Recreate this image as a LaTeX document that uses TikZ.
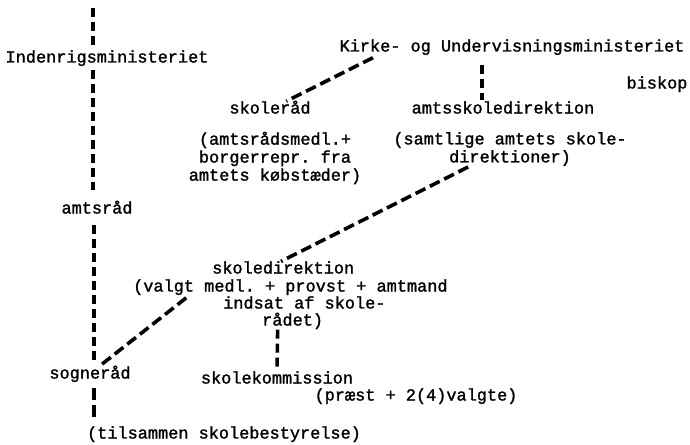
\documentclass[tikz,border=0pt]{standalone}
\usepackage{fontspec}
\setmainfont[FakeBold=1.5]{Liberation Mono}
\frenchspacing
\begin{document}
\begin{tikzpicture}[x=1pt,y=-1pt,
  txt/.style={inner sep=0pt,text height=11pt,text depth=4pt,font=\fontsize{16.9}{18}\selectfont\frenchspacing},
  txtw/.style={txt,anchor=west},
  blk/.style={inner sep=0pt,align=center,font=\fontsize{16.9}{18}\selectfont\frenchspacing},
  dv/.style={line width=3.6pt,dash pattern=on 9pt off 5pt},
  dd/.style={line width=3.6pt,dash pattern=on 11pt off 5pt}]
\useasboundingbox (0,0) rectangle (690,444);
% nodes
\node[txt] (ind) at (107,59) {Indenrigsministeriet};
\node[txt] (kum) at (512,48) {Kirke- og Undervisningsministeriet};
\node[txt] (bis) at (657,85) {biskop};
\node[txt] (skr) at (270,110) {skoleråd};
\node[txt] (asd) at (503,110) {amtsskoledirektion};
\node[blk] (skrn) at (275,158) {(amtsrådsmedl.+\\borgerrepr. fra\\amtets købstæder)};
\node[blk] (asdn) at (510,149) {(samtlige amtets skole-\\direktioner)};
\node[txt] (amt) at (97,210) {amtsråd};
\node[txtw] (sd1) at (212,270) {skoledirektion};
\node[txtw] (sd2) at (133,288) {(valgt medl. + provst + amtmand};
\node[txtw] (sd3) at (223,305) {indsat af skole-};
\node[txtw] (sd4) at (262,322) {rådet)};
\node[txt] (sog) at (90,375) {sogneråd};
\node[txt] (sk) at (277,380) {skolekommission};
\node[txt] (skn) at (416,397) {(præst + 2(4)valgte)};
\node[txt] (til) at (224,435) {(tilsammen skolebestyrelse)};
\coordinate (top) at (93,8);
% connectors
\draw[dv,shorten >=6pt] (top) -- ([xshift=-14pt]ind.north);
\draw[dv,shorten <=3.5pt,shorten >=12pt] ([xshift=-14pt]ind.south) -- ([xshift=-4pt]amt.north);
\draw[dv,shorten <=7.5pt,shorten >=7.5pt] ([xshift=-3pt]amt.south) -- ([xshift=4pt]sog.north);
\draw[line width=3.6pt,dash pattern=on 12pt off 5pt,shorten <=5.5pt,shorten >=9.5pt] ([xshift=4pt]sog.south) -- ([xshift=-130pt]til.north);
\draw[dd,shorten <=4.5pt,shorten >=2.5pt] ([xshift=-135pt]kum.south) -- ([xshift=14pt]skr.north);
\draw[dv,shorten <=9.5pt,shorten >=2.5pt] ([xshift=-30pt]kum.south) -- ([xshift=-21pt]asd.north);
\draw[dd,shorten <=2pt,shorten >=2pt] ([xshift=-40pt]asdn.south) -- ([xshift=-4pt]sd1.north);
\draw[dd,shorten <=1pt,shorten >=3pt] ([xshift=54pt,yshift=-1.5pt]sd2.south west) -- ([xshift=8pt]sog.north);
\draw[dv,shorten >=5.5pt] ([xshift=-15pt]sd4.south) -- (sk.north);
\end{tikzpicture}
\end{document}
